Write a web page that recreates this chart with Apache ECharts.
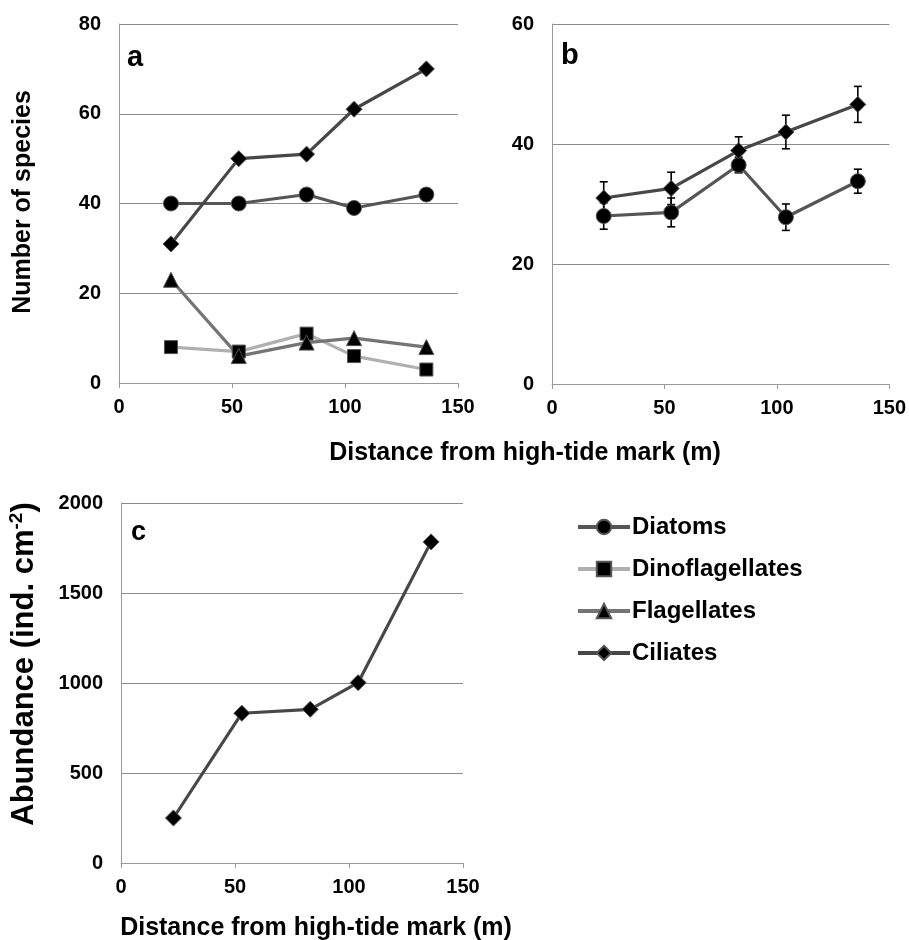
<!DOCTYPE html>
<html>
<head>
<meta charset="utf-8">
<script src="https://cdn.jsdelivr.net/npm/echarts@6/dist/echarts.min.js"></script>
<style>
  html, body { margin: 0; padding: 0; background: #fff; }
  #chart { width: 909px; height: 940px; }
</style>
</head>
<body>
<div id="chart"></div>
<script>
// distance from high-tide mark (m)
const distance = [23, 53, 83, 104, 136];

// panel a: number of species per group
const diatomsA = [40, 40, 42, 39, 42];
const dinoA = [8, 7, 11, 6, 3];
const flagA = [23, 6, 9, 10, 8];
const ciliatesA = [31, 50, 51, 61, 70];

// panel b: mean species number with error
const diatomsB = [28, 28.6, 36.5, 27.8, 33.8];
const diatomsBErr = [2.2, 2.4, 1.3, 2.2, 2];
const ciliatesB = [31, 32.6, 38.9, 42, 46.6];
const ciliatesBErr = [2.7, 2.7, 2.3, 2.8, 3];

// panel c: ciliate abundance (ind. cm-2)
const abundance = [250, 832, 854, 1002, 1784];

const FONT = '"Liberation Sans", Arial, sans-serif';

// join x and y into points
function pts(ys) {
  return ys.map((y, i) => [distance[i], y]);
}
function errs(ys, e) {
  return ys.map((y, i) => [distance[i], y - e[i], y + e[i]]);
}

const gridColor = '#8c8c8c';

function xAxis(gi) {
  return {
    type: 'value', gridIndex: gi, min: 0, max: 150, interval: 50,
    axisLine: { lineStyle: { color: '#999', width: 1 } },
    axisTick: { show: true, length: 5, lineStyle: { color: '#999' } },
    splitLine: { show: false },
    axisLabel: { color: '#000', fontFamily: FONT, fontWeight: 'bold', fontSize: 20, margin: 14 }
  };
}
function yAxis(gi, max, step) {
  return {
    type: 'value', gridIndex: gi, min: 0, max: max, interval: step,
    axisLine: { show: true, lineStyle: { color: '#999', width: 1 } },
    axisTick: { show: false },
    splitLine: { lineStyle: { color: gridColor, width: 1 } },
    axisLabel: { color: '#000', fontFamily: FONT, fontWeight: 'bold', fontSize: 20, margin: 18, formatter: v => String(v) }
  };
}

// style of each group, shared by the panels
const styles = {
  Diatoms: { symbol: 'circle', size: 15, line: '#555555' },
  Dinoflagellates: { symbol: 'rect', size: 13, line: '#b0b0b0' },
  Flagellates: { symbol: 'triangle', size: 15, line: '#747474' },
  Ciliates: { symbol: 'diamond', size: 16, line: '#474747' }
};

function line(name, data, xi) {
  const s = styles[name];
  return {
    name: name, type: 'line', xAxisIndex: xi, yAxisIndex: xi,
    data: data, symbol: s.symbol, symbolSize: s.size,
    lineStyle: { color: s.line, width: 3.2 },
    itemStyle: { color: '#000', borderColor: '#555', borderWidth: 1 },
    emphasis: { disabled: true }
  };
}

function errorBars(data) {
  return {
    type: 'custom', xAxisIndex: 1, yAxisIndex: 1, data: data, z: 3,
    renderItem: (params, api) => {
      const lo = api.coord([api.value(0), api.value(1)]);
      const hi = api.coord([api.value(0), api.value(2)]);
      const w = 4;
      const st = { stroke: '#000', lineWidth: 1.6 };
      return {
        type: 'group',
        children: [
          { type: 'line', shape: { x1: lo[0], y1: lo[1], x2: hi[0], y2: hi[1] }, style: st },
          { type: 'line', shape: { x1: lo[0] - w, y1: lo[1], x2: lo[0] + w, y2: lo[1] }, style: st },
          { type: 'line', shape: { x1: hi[0] - w, y1: hi[1], x2: hi[0] + w, y2: hi[1] }, style: st }
        ]
      };
    }
  };
}

function label(text, x, y, size) {
  return {
    type: 'text', x: x, y: y,
    style: { text: text, font: 'bold ' + size + 'px ' + FONT, fill: '#000', textAlign: 'left', textVerticalAlign: 'bottom' }
  };
}

const option = {
  animation: false,
  backgroundColor: '#fff',
  grid: [
    { left: 119, top: 24, width: 339, height: 359 },
    { left: 552, top: 24, width: 341, height: 360 },
    { left: 121, top: 503, width: 342, height: 360 }
  ],
  xAxis: [xAxis(0), xAxis(1), xAxis(2)],
  yAxis: [yAxis(0, 80, 20), yAxis(1, 60, 20), yAxis(2, 2000, 500)],
  legend: {
    data: ['Diatoms', 'Dinoflagellates', 'Flagellates', 'Ciliates'],
    orient: 'vertical', left: 576, top: 515, padding: 0,
    itemWidth: 52, itemHeight: 18, itemGap: 18,
    lineStyle: { width: 4 },
    textStyle: { color: '#000', fontFamily: FONT, fontWeight: 'bold', fontSize: 24, padding: [0, 0, 0, -3] }
  },
  graphic: [
    label('a', 127, 72, 29),
    label('b', 561, 70, 29),
    label('c', 131, 546, 27),
    {
      type: 'text', x: 525, y: 453,
      style: { text: 'Distance from high-tide mark (m)', font: 'bold 25px ' + FONT, fill: '#000', textAlign: 'center', textVerticalAlign: 'middle' }
    },
    {
      type: 'text', x: 316, y: 928,
      style: { text: 'Distance from high-tide mark (m)', font: 'bold 25px ' + FONT, fill: '#000', textAlign: 'center', textVerticalAlign: 'middle' }
    },
    {
      type: 'text', x: 23, y: 202, rotation: Math.PI / 2,
      style: { text: 'Number of species', font: 'bold 25px ' + FONT, fill: '#000', textAlign: 'center', textVerticalAlign: 'middle' }
    },
    {
      type: 'text', x: 24, y: 664, rotation: Math.PI / 2,
      style: {
        text: 'Abundance (ind. cm{sup|-2})', font: 'bold 31px ' + FONT, fill: '#000',
        textAlign: 'center', textVerticalAlign: 'middle',
        rich: { sup: { font: 'bold 19px ' + FONT, fill: '#000', verticalAlign: 'top', lineHeight: 33 } }
      }
    }
  ],
  series: [
    line('Diatoms', pts(diatomsA), 0),
    line('Dinoflagellates', pts(dinoA), 0),
    line('Flagellates', pts(flagA), 0),
    line('Ciliates', pts(ciliatesA), 0),
    line('Diatoms', pts(diatomsB), 1),
    line('Ciliates', pts(ciliatesB), 1),
    errorBars(errs(diatomsB, diatomsBErr)),
    errorBars(errs(ciliatesB, ciliatesBErr)),
    line('Ciliates', pts(abundance), 2)
  ]
};

const chart = echarts.init(document.getElementById('chart'));
chart.setOption(option);
</script>
</body>
</html>
